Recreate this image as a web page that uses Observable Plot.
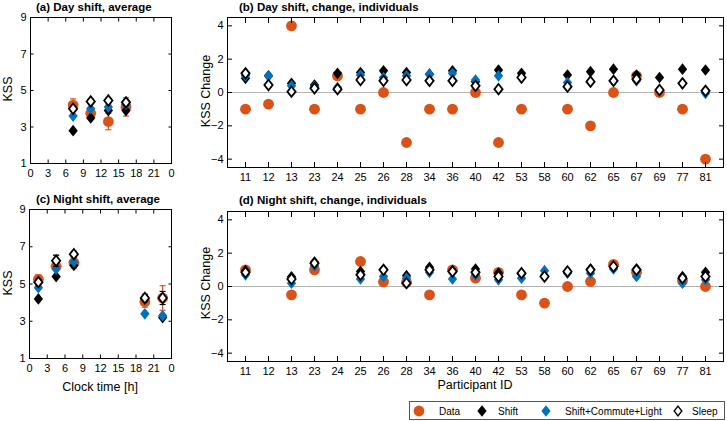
<!DOCTYPE html>
<html><head><meta charset="utf-8">
<script src="https://cdn.jsdelivr.net/npm/d3@7"></script>
<script src="https://cdn.jsdelivr.net/npm/@observablehq/plot@0.6"></script>
<style>
body{margin:0;background:#fff;}
#c{position:relative;width:727px;height:421px;font-family:"Liberation Sans",Arial,sans-serif;color:#000;overflow:hidden;}
.p{position:absolute;}
.t{position:absolute;font-weight:bold;font-size:11.5px;white-space:nowrap;line-height:1;}
.yl{position:absolute;font-size:12.5px;transform:translate(-50%,-50%) rotate(-90deg);white-space:nowrap;line-height:1;}
.xl{position:absolute;font-size:12.5px;transform:translate(-50%,-50%);white-space:nowrap;line-height:1;}
</style></head><body><div id="c"></div>
<script>
// ---------- data ----------
const ids = [11,12,13,23,24,25,26,28,34,36,40,42,53,58,60,62,65,67,69,77,81];

const dayTimes    = [7.25, 10.25, 13.25, 16.25];
const dayData     = [4.2, 3.75, 3.3, 4.1];
const dayDataErr  = [0.34, 0.3, 0.45, 0.5];
const dayShift    = [2.8, 3.5, 3.9, 3.9];
const daySCL      = [3.6, 4.0, 4.1, 4.25];
const daySleep    = [4.0, 4.4, 4.45, 4.35];
const daySleepErr = [0.12, 0.12, 0.12, 0.15];

const nightTimes    = [1.5, 4.5, 7.5, 19.5, 22.5];
const nightData     = [5.25, 5.95, 6.15, 4.05, 4.25];
const nightDataErr  = [0.25, 0.58, 0.3, 0.3, 0.66];
const nightShift    = [4.2, 5.4, 6.0, 4.2, 3.2];
const nightSCL      = [4.8, 5.8, 6.2, 3.4, 3.3];
const nightSleep    = [5.1, 6.25, 6.6, 4.25, 4.25];
const nightSleepErr = [0.15, 0.3, 0.15, 0.2, 0.35];

const dayChgData  = [-1,-0.7,4,-1,1,-1,0,-3,-1,-1,0,-3,-1,null,-1,-2,0,1,0,-1,-4];
const dayChgShift = [0.85,1.0,0.55,0.45,1.15,1.2,1.3,1.2,1.1,1.3,0.65,1.35,1.15,null,1.05,1.25,1.4,1.05,0.9,1.4,1.35];
const dayChgSCL   = [1.0,1.0,0.4,0.35,0.3,1.05,0.9,1.0,1.1,1.15,0.75,1.0,0.9,null,0.6,0.65,0.7,0.7,0.15,0.55,-0.05];
const dayChgSleep = [1.15,0.45,0.05,0.25,0.2,0.75,0.7,0.75,0.7,0.7,0.4,0.2,0.9,null,0.35,0.65,0.7,0.8,0.15,0.55,0.1];

const nightChgData  = [1.0,null,-0.5,1.0,null,1.5,0.28,0.25,-0.5,1.0,0.5,0.85,-0.5,-1.0,0,0.3,1.33,0.85,null,0.35,0];
const nightChgShift = [0.95,null,0.58,1.47,null,0.9,1.0,0.65,1.15,0.95,1.05,0.8,0.75,0.65,0.85,1.05,1.15,1.05,null,0.6,0.85];
const nightChgSCL   = [0.7,null,0.2,1.25,null,0.45,0.6,0.5,0.85,0.45,0.7,0.4,0.5,0.95,0.8,0.8,1.05,0.6,null,0.2,0.4];
const nightChgSleep = [0.85,null,0.45,1.4,null,0.7,1.0,0.2,1.0,0.9,0.85,0.6,0.8,0.6,0.9,1.0,1.2,1.0,null,0.5,0.6];

const clockTicks = [0,3,6,9,12,15,18,21,24];
const kssTicks = [1,3,5,7,9];
const chgTicks = [-4,-2,0,2,4];

// ---------- styles ----------
const ORANGE = "#D95319", BLUE = "#0072BD";
const diamondSym = {draw(ctx, size){const s=Math.sqrt(size);const w=s*0.57,h=s*0.72;ctx.moveTo(0,-h);ctx.lineTo(w,0);ctx.lineTo(0,h);ctx.lineTo(-w,0);ctx.closePath();}};
const capSym = {draw(ctx){ctx.moveTo(-3,0);ctx.lineTo(3,0);}};

const C = document.getElementById("c");
function place(el, left, top){el.classList.add("p");el.style.left=left+"px";el.style.top=top+"px";C.appendChild(el);}
function addDiv(cls, text, left, top){const d=document.createElement("div");d.className=cls;d.textContent=text;d.style.left=left+"px";d.style.top=top+"px";C.appendChild(d);}

const rowsT = (t, v, e) => t.map((x,i)=>({x, y:v[i], lo: e ? v[i]-e[i] : null, hi: e ? v[i]+e[i] : null}));
const rowsI = (v) => ids.map((id,i)=>({id, y:v[i]})).filter(d=>d.y!=null);

function axes(xTicks, yTicks, xfmt, tick){
  return [
    Plot.axisX(xTicks, {anchor:"bottom", tickSize:0, tickPadding:6, tickFormat:xfmt, label:null, fontSize:11}),
    Plot.axisX(xTicks, {anchor:"bottom", tickSize:-tick, fill:"none", label:null}),
    Plot.axisX(xTicks, {anchor:"top", tickSize:-tick, fill:"none", label:null}),
    Plot.axisY(yTicks, {anchor:"left", tickSize:0, tickPadding:4, label:null, fontSize:11}),
    Plot.axisY(yTicks, {anchor:"left", tickSize:-tick, fill:"none", label:null}),
    Plot.axisY(yTicks, {anchor:"right", tickSize:-tick, fill:"none", label:null}),
    Plot.frame({stroke:"#000", strokeWidth:1})
  ];
}

const R_C = 5.4, R_D = 4.6, R_W = 4.1;

function avgPanel(t, data, dataErr, shift, scl, sleep, sleepErr, m){
  const D = rowsT(t, data, dataErr), S = rowsT(t, shift), B = rowsT(t, scl), W = rowsT(t, sleep, sleepErr);
  return Plot.plot({
    width: m.w, height: m.h, marginLeft: m.l, marginRight: m.r, marginTop: m.t, marginBottom: m.b,
    style:{background:"none", overflow:"visible", fontFamily:"Liberation Sans, Arial, sans-serif", fontSize:"11px", color:"#000"},
    x:{domain:[0,24]}, y:{domain:[1,9]},
    marks:[
      Plot.ruleX(D, {x:"x", y1:"lo", y2:"hi", stroke:ORANGE, strokeWidth:1.2}),
      Plot.dot(D, {x:"x", y:"lo", symbol:capSym, stroke:ORANGE, strokeWidth:1.2}),
      Plot.dot(D, {x:"x", y:"hi", symbol:capSym, stroke:ORANGE, strokeWidth:1.2}),
      Plot.dot(D, {x:"x", y:"y", r:R_C, fill:ORANGE, stroke:"none"}),
      Plot.dot(S, {x:"x", y:"y", r:R_D, symbol:diamondSym, fill:"#000", stroke:"none"}),
      Plot.dot(B, {x:"x", y:"y", r:R_D, symbol:diamondSym, fill:BLUE, stroke:"none"}),
      Plot.ruleX(W, {x:"x", y1:"lo", y2:"hi", stroke:"#000", strokeWidth:1.2}),
      Plot.dot(W, {x:"x", y:"lo", symbol:capSym, stroke:"#000", strokeWidth:1.2}),
      Plot.dot(W, {x:"x", y:"hi", symbol:capSym, stroke:"#000", strokeWidth:1.2}),
      Plot.dot(W, {x:"x", y:"y", r:R_W, symbol:diamondSym, fill:"#fff", stroke:"#000", strokeWidth:1.8}),
      ...axes(clockTicks, kssTicks, d => String(d % 24), 3.5)
    ]
  });
}

function chgPanel(data, shift, scl, sleep, m){
  return Plot.plot({
    width: m.w, height: m.h, marginLeft: m.l, marginRight: m.r, marginTop: m.t, marginBottom: m.b,
    style:{background:"none", overflow:"visible", fontFamily:"Liberation Sans, Arial, sans-serif", fontSize:"11px", color:"#000"},
    x:{type:"point", domain:ids, padding:0.5}, y:{domain:[-4.5,4.5]},
    marks:[
      Plot.ruleY([0], {stroke:"#b3b3b3", strokeWidth:1}),
      Plot.dot(rowsI(data), {x:"id", y:"y", r:R_C, fill:ORANGE, stroke:"none"}),
      Plot.dot(rowsI(shift), {x:"id", y:"y", r:R_D, symbol:diamondSym, fill:"#000", stroke:"none"}),
      Plot.dot(rowsI(scl), {x:"id", y:"y", r:R_D, symbol:diamondSym, fill:BLUE, stroke:"none"}),
      Plot.dot(rowsI(sleep), {x:"id", y:"y", r:R_W, symbol:diamondSym, fill:"#fff", stroke:"#000", strokeWidth:1.8}),
      ...axes(ids, chgTicks, d => String(d), 5)
    ]
  });
}

place(avgPanel(dayTimes, dayData, dayDataErr, dayShift, daySCL, daySleep, daySleepErr, {w:200,h:195,l:30,r:29,t:17,b:32}), 0, 0);
place(avgPanel(nightTimes, nightData, nightDataErr, nightShift, nightSCL, nightSleep, nightSleepErr, {w:200,h:200,l:29,r:29,t:19,b:32}), 0, 190);
place(chgPanel(dayChgData, dayChgShift, dayChgSCL, dayChgSleep, {w:527,h:195,l:27,r:4,t:17,b:28}), 200, 0);
place(chgPanel(nightChgData, nightChgShift, nightChgSCL, nightChgSleep, {w:527,h:200,l:27,r:4,t:21,b:29}), 200, 190);

addDiv("t", "(a) Day shift, average", 36, 2);
addDiv("t", "(b) Day shift, change, individuals", 239, 2);
addDiv("t", "(c) Night shift, average", 36, 194);
addDiv("t", "(d) Night shift, change, individuals", 239, 195);
addDiv("yl", "KSS", 8, 89);
addDiv("yl", "KSS", 8, 283);
addDiv("yl", "KSS Change", 206, 91);
addDiv("yl", "KSS Change", 206, 283);
addDiv("xl", "Clock time [h]", 100, 387);
addDiv("xl", "Participant ID", 475, 385);

// ---------- legend ----------
const legendLabels = ["Data", "Shift", "Shift+Commute+Light", "Sleep"];
function diamondPath(r){const p=d3.path();diamondSym.draw(p, Math.PI*r*r);return p.toString();}
const leg = d3.create("svg").attr("width", 317).attr("height", 20)
  .style("position","absolute").style("left","409px").style("top","401px").style("overflow","visible");
leg.append("rect").attr("x",0.5).attr("y",0.5).attr("width",315).attr("height",18).attr("fill","#fff").attr("stroke","#555").attr("stroke-width",1);
const symX = [10, 73, 137, 269], txtX = [30, 89, 156, 283];
const mk = [
  g => g.append("circle").attr("r",R_C).attr("fill",ORANGE),
  g => g.append("path").attr("d", diamondPath(R_D)).attr("fill","#000"),
  g => g.append("path").attr("d", diamondPath(R_D)).attr("fill",BLUE),
  g => g.append("path").attr("d", diamondPath(3.8)).attr("fill","#fff").attr("stroke","#000").attr("stroke-width",1.4)
];
legendLabels.forEach((lab,i)=>{
  const g = leg.append("g").attr("transform",`translate(${symX[i]},10)`);
  mk[i](g);
  leg.append("text").attr("x",txtX[i]).attr("y",10).attr("dy","0.35em").attr("font-size",10).attr("font-family","Liberation Sans, Arial, sans-serif").text(lab);
});
C.appendChild(leg.node());
</script></body></html>
